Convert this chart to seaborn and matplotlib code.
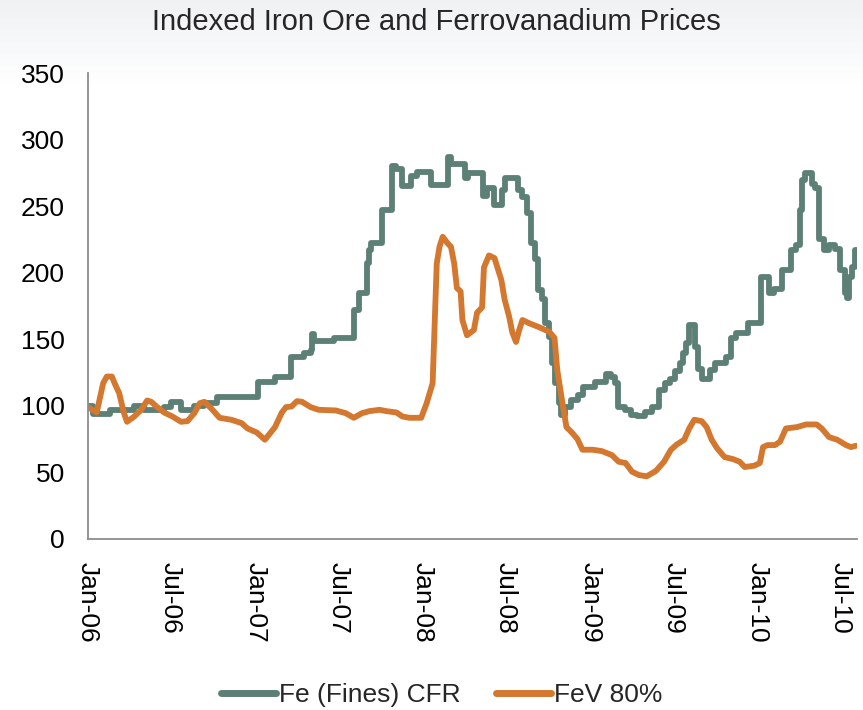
import pandas as pd
import numpy as np
import matplotlib
matplotlib.use("Agg")
import matplotlib.pyplot as plt
import matplotlib.dates as mdates
import seaborn as sns

# Fe (Fines) CFR - weekly index, price changes (date, new level)
fe_dates = [
    "2006-01-01", "2006-01-12", "2006-02-17", "2006-04-12", "2006-05-03", "2006-06-16",
    "2006-07-01", "2006-07-23", "2006-08-21", "2006-09-12", "2006-10-10", "2007-01-06",
    "2007-02-13", "2007-03-21", "2007-04-17", "2007-05-02", "2007-05-04", "2007-05-10",
    "2007-06-21", "2007-08-04", "2007-08-15", "2007-09-02", "2007-09-07", "2007-09-11",
    "2007-10-05", "2007-10-26", "2007-11-04", "2007-11-17", "2007-12-07", "2007-12-20",
    "2008-01-20", "2008-02-25", "2008-03-03", "2008-04-03", "2008-04-10", "2008-05-12",
    "2008-05-20", "2008-06-04", "2008-06-22", "2008-06-28", "2008-07-28", "2008-08-05",
    "2008-08-15", "2008-08-24", "2008-09-03", "2008-09-10", "2008-09-17", "2008-09-24",
    "2008-10-04", "2008-10-10", "2008-10-17", "2008-10-24", "2008-10-30", "2008-11-06",
    "2008-11-20", "2008-12-05", "2008-12-17", "2009-01-12", "2009-02-05", "2009-02-16",
    "2009-02-25", "2009-03-03", "2009-03-17", "2009-03-31", "2009-04-14", "2009-04-30",
    "2009-05-15", "2009-05-30", "2009-06-14", "2009-06-25", "2009-07-05", "2009-07-15",
    "2009-07-23", "2009-07-30", "2009-08-04", "2009-08-18", "2009-08-25", "2009-09-01",
    "2009-09-20", "2009-10-01", "2009-10-25", "2009-11-05", "2009-11-15", "2009-12-12",
    "2010-01-08", "2010-01-26", "2010-02-05", "2010-02-24", "2010-03-16", "2010-03-26",
    "2010-04-03", "2010-04-09", "2010-04-15", "2010-04-30", "2010-05-07", "2010-05-15",
    "2010-05-26", "2010-06-06", "2010-06-20", "2010-06-29", "2010-07-11", "2010-07-15",
    "2010-07-19", "2010-07-27", "2010-08-02", "2010-08-05",
]
fe_values = [
    100, 94, 97, 100, 97, 99,
    103, 97, 100, 102, 107, 118,
    122, 137, 140, 142, 154, 149,
    151, 172, 185, 207, 217, 222,
    247, 280, 278, 265, 273, 276,
    266, 287, 282, 271, 275, 258,
    264, 251, 262, 271, 262, 257,
    245, 222, 210, 187, 180, 162,
    152, 132, 117, 102, 93, 99,
    104, 108, 114, 118, 124, 122,
    117, 99, 97, 93, 92, 95,
    99, 112, 117, 120, 126, 132,
    140, 147, 161, 144, 128, 120,
    127, 132, 137, 151, 155, 162,
    197, 185, 188, 202, 217, 221,
    247, 270, 275, 267, 264, 225,
    217, 221, 218, 202, 185, 181,
    197, 204, 217, 217,
]

# FeV 80%
fev_dates = [
    "2006-01-01", "2006-01-20", "2006-02-03", "2006-02-11", "2006-02-22", "2006-02-28",
    "2006-03-10", "2006-03-20", "2006-03-27", "2006-04-12", "2006-04-27", "2006-05-10",
    "2006-05-19", "2006-06-01", "2006-06-16", "2006-07-04", "2006-07-23", "2006-08-06",
    "2006-08-21", "2006-09-02", "2006-09-12", "2006-09-27", "2006-10-15", "2006-11-10",
    "2006-12-02", "2006-12-15", "2007-01-04", "2007-01-22", "2007-02-13", "2007-02-28",
    "2007-03-09", "2007-03-21", "2007-04-02", "2007-04-13", "2007-05-02", "2007-05-19",
    "2007-06-26", "2007-07-17", "2007-08-04", "2007-08-22", "2007-09-07", "2007-09-29",
    "2007-10-14", "2007-11-05", "2007-11-18", "2007-12-03", "2007-12-29", "2008-01-10",
    "2008-01-23", "2008-02-01", "2008-02-07", "2008-02-14", "2008-02-25", "2008-03-03",
    "2008-03-10", "2008-03-16", "2008-03-24", "2008-03-28", "2008-04-07", "2008-04-22",
    "2008-04-29", "2008-05-10", "2008-05-14", "2008-05-25", "2008-06-06", "2008-06-21",
    "2008-06-28", "2008-07-08", "2008-07-15", "2008-07-23", "2008-07-30", "2008-08-06",
    "2008-08-21", "2008-09-12", "2008-10-04", "2008-10-15", "2008-10-21", "2008-10-30",
    "2008-11-10", "2008-11-23", "2008-12-04", "2008-12-15", "2009-01-06", "2009-01-26",
    "2009-02-17", "2009-03-04", "2009-03-19", "2009-04-02", "2009-04-17", "2009-05-04",
    "2009-05-24", "2009-06-11", "2009-06-26", "2009-07-09", "2009-07-25", "2009-08-05",
    "2009-08-16", "2009-09-01", "2009-09-12", "2009-09-23", "2009-10-05", "2009-10-21",
    "2009-11-08", "2009-11-23", "2009-12-04", "2009-12-25", "2010-01-06", "2010-01-13",
    "2010-01-23", "2010-02-08", "2010-02-19", "2010-03-04", "2010-03-28", "2010-04-17",
    "2010-05-10", "2010-05-21", "2010-06-06", "2010-06-24", "2010-07-13", "2010-07-24",
    "2010-08-04",
]
fev_values = [
    99, 95, 117, 122, 122, 117,
    109.5, 95, 88, 92, 97, 104,
    103, 99, 95, 92, 88, 88.5,
    94.5, 102, 103, 98, 91, 89.5,
    87, 83, 80, 74.5, 84, 95,
    99, 99.5, 103.5, 103, 99, 97,
    96.5, 94.5, 91, 94.5, 96, 97,
    96, 95, 92, 91, 91, 102,
    117, 207, 219.5, 227, 222, 219.5,
    207, 188.5, 186, 164.5, 153, 157,
    170, 174, 204, 213, 211, 194.5,
    180, 167, 155, 148, 157, 164.5,
    162, 159, 155.5, 151, 127, 107,
    84, 79.5, 75, 67, 67, 66,
    63, 58, 57, 50.5, 48, 47,
    51, 58, 67, 71, 74.5, 83,
    89.5, 88.5, 84, 74.5, 68, 61.5,
    60, 58, 54, 55, 57, 69,
    70.5, 70.5, 73, 83, 84, 86,
    86, 83, 76.5, 74.5, 70.5, 69,
    70,
]

fe = pd.DataFrame({"date": pd.to_datetime(fe_dates), "price": fe_values})
fev = pd.DataFrame({"date": pd.to_datetime(fev_dates), "price": fev_values})

sns.set_style("white")
plt.rcParams["font.family"] = ["Liberation Sans", "DejaVu Sans"]

fe_color = "#5c7f76"
fev_color = "#d4772f"

fig = plt.figure(figsize=(8.63, 7.1), dpi=100)

# faint grey gradient behind the title
bg = fig.add_axes([0, 0, 1, 1], zorder=-10)
grad = np.linspace(0, 1, 256).reshape(-1, 1)
bg.imshow(grad, aspect="auto", cmap=matplotlib.colors.LinearSegmentedColormap.from_list(
    "g", ["#eff1f3", "#ffffff"]), extent=[0, 1, 0.88, 1.0], vmin=0, vmax=1)
bg.set_xlim(0, 1)
bg.set_ylim(0, 1)
bg.axis("off")

ax = fig.add_axes([0.102, 0.241, 0.891, 0.656])
ax.patch.set_alpha(0)

sns.lineplot(data=fe, x="date", y="price", ax=ax, color=fe_color, linewidth=4.2,
             estimator=None, drawstyle="steps-post", label="Fe (Fines) CFR")
sns.lineplot(data=fev, x="date", y="price", ax=ax, color=fev_color, linewidth=4.2,
             estimator=None, label="FeV 80%")

ax.set_ylim(0, 350)
ax.set_yticks(range(0, 351, 50))
ax.set_xlim(pd.Timestamp("2006-01-01"), pd.Timestamp("2010-08-06"))
ax.xaxis.set_major_locator(mdates.MonthLocator(bymonth=[1, 7]))
ax.xaxis.set_major_formatter(mdates.DateFormatter("%b-%y"))
ax.set_xlabel("")
ax.set_ylabel("")

for s in ["top", "right"]:
    ax.spines[s].set_visible(False)
for s in ["left", "bottom"]:
    ax.spines[s].set_color("#8c8c8c")
    ax.spines[s].set_linewidth(1.3)

ax.tick_params(axis="both", direction="out", length=5.5, width=1.3, color="#8c8c8c",
               labelsize=19, labelcolor="black")
ax.tick_params(axis="y", pad=11)
ax.tick_params(axis="x", pad=11)
plt.setp(ax.get_xticklabels(), rotation=270, ha="center", va="top")

fig.suptitle("Indexed Iron Ore and Ferrovanadium Prices", fontsize=21,
             x=0.506, y=0.969, va="center")

ax.legend(loc="center", bbox_to_anchor=(0.46, -0.335), ncol=2, frameon=False,
          fontsize=19, handlelength=2.1, handletextpad=0.12, columnspacing=1.33)
for line in ax.get_legend().get_lines():
    line.set_linewidth(5)
    line.set_solid_capstyle("round")

fig.savefig("out.png", dpi=100)
